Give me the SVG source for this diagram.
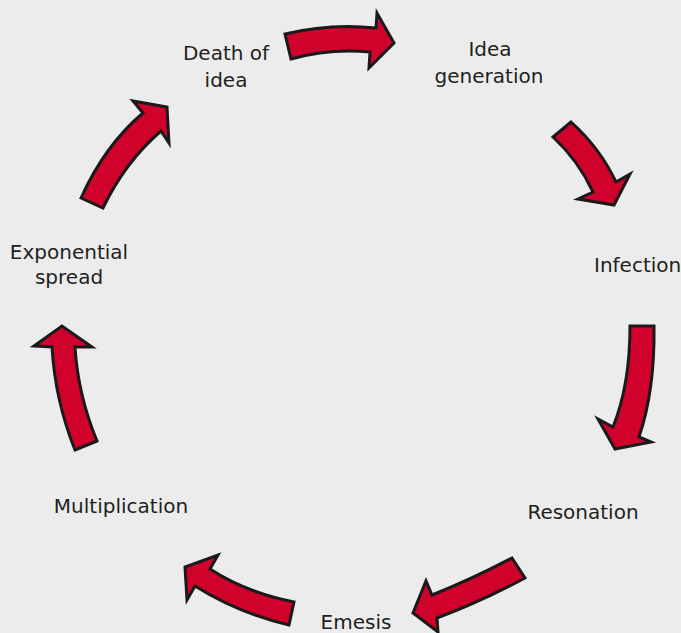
<svg xmlns="http://www.w3.org/2000/svg" width="681" height="633" viewBox="0 0 681 633">
<style>
.arr{fill:#d0022c;stroke:#1a1a1a;stroke-width:3;stroke-linejoin:miter}
.lbl{font-family:"DejaVu Sans",sans-serif;font-size:20px;fill:#231f20;text-anchor:middle}
</style>
<rect width="681" height="633" fill="#ebeceb"/>
<g id="connectors">
<path class="arr" d="M285,34 Q330,23 376,28 L377,13 L394,43 L369,68 L370,52 Q330,48 291,59 Z"/>
<path class="arr" d="M553,137 L571,122 Q600,148 616,182 L630,174 L614,205 L578,199 L593,192 Q578,160 553,137 Z"/>
<path class="arr" d="M630,326 L654,326 Q655,390 639,437 L651,442 L615,449 L598,419 L613,427 Q630,385 630,326 Z"/>
<path class="arr" d="M512,558 L525,578 Q480,602 437,618 L438,632 L413,613 L426,581 L432,595 Q470,580 512,558 Z"/>
<path class="arr" d="M294,602 L289,625 Q238,613 195,586 L187,600 L185,567 L218,555 L210,569 Q245,592 294,602 Z"/>
<path class="arr" d="M97,441 L75,450 Q55,400 52,347 L34,346 L62,326 L92,347 L75,347 Q78,395 97,441 Z"/>
<path class="arr" d="M81,198 L103,208 Q125,162 161,131 L169,143 L167,107 L133,101 L143,113 Q105,145 81,198 Z"/>
</g>
<g id="death"><text class="lbl" x="226" y="60">Death of</text><text class="lbl" x="226" y="87">idea</text></g>
<g id="idea"><text class="lbl" x="490" y="56">Idea</text><text class="lbl" x="489" y="83">generation</text></g>
<g id="infection"><text class="lbl" x="594" y="272" style="text-anchor:start">Infection</text></g>
<g id="resonation"><text class="lbl" x="583" y="519">Resonation</text></g>
<g id="emesis"><text class="lbl" x="356" y="629">Emesis</text></g>
<g id="multiplication"><text class="lbl" x="121" y="513">Multiplication</text></g>
<g id="exponential"><text class="lbl" x="69" y="259">Exponential</text><text class="lbl" x="69" y="284">spread</text></g>
</svg>
